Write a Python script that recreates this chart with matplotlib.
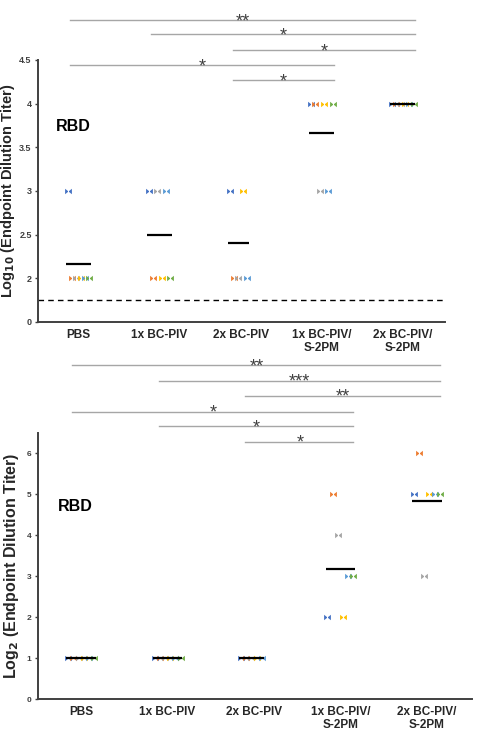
import matplotlib
matplotlib.use("Agg")
import matplotlib.pyplot as plt
import numpy as np

plt.rcParams['font.family'] = ['Liberation Sans', 'DejaVu Sans']

# data
groups = ['PBS', '1x BC-PIV', '2x BC-PIV', '1x BC-PIV/\nS-2PM', '2x BC-PIV/\nS-2PM']
mouse_colors = ['#4472C4', '#ED7D31', '#A5A5A5', '#FFC000', '#5B9BD5', '#70AD47']

# one value per mouse (None = no point)
log10_titer = [
    [3, 2, 2, 2, 2, 2],
    [3, 2, 3, 2, 3, 2],
    [3, 2, 2, 3, 2, None],
    [4, 4, 3, 4, 3, 4],
    [4, 4, 4, 4, 4, 4],
]
log2_titer = [
    [1, 1, 1, 1, 1, 1],
    [1, 1, 1, 1, 1, 1],
    [1, 1, 1, 1, 1, None],
    [2, 5, 4, 2, 3, 3],
    [5, 6, 3, 5, 5, 5],
]

# significance: (group a, group b, y level, stars)
sig_top = [(0, 4, 4.955, '**'), (1, 4, 4.795, '*'), (2, 4, 4.61, '*'),
           (0, 3, 4.44, '*'), (2, 3, 4.27, '*')]
sig_bot = [(0, 4, 8.15, '**'), (1, 4, 7.78, '***'), (2, 4, 7.41, '**'),
           (0, 3, 7.02, '*'), (1, 3, 6.66, '*'), (2, 3, 6.29, '*')]

bowtie = [(-1, 0.8), (1, -0.8), (1, 0.8), (-1, -0.8), (-1, 0.8)]


def draw_panel(ax, values, spacing, yticks, yticklabels, ylim, ylabel, sigs,
               tick_fs, label_fs, label_x):
    for i, vals in enumerate(values):
        xs, ys = [], []
        for k, v in enumerate(vals):
            if v is None:
                continue
            x = i + (k - 2.5) * spacing
            ax.scatter(x, v, marker=bowtie, s=24, color=mouse_colors[k],
                       linewidths=0, zorder=3, clip_on=False)
            xs.append(x)
            ys.append(v)
        m = np.mean(ys)
        ax.plot([min(xs) - 0.02, max(xs) + 0.02], [m, m], color='black', lw=1.6, zorder=4,
                solid_capstyle='butt')

    for a, b, y, s in sigs:
        ax.plot([a - 0.1, b + 0.15], [y, y], color='#A6A6A6', lw=1.0, clip_on=False)
        ax.annotate(s, xy=((a + b) / 2 + 0.03, y), xytext=(0, -4.5), textcoords='offset points',
                    ha='center', va='baseline', fontsize=13, color='#404040',
                    annotation_clip=False)

    ax.set_xlim(-0.5, 4.52)
    ax.set_ylim(*ylim)
    ax.set_yticks(yticks)
    ax.set_yticklabels(yticklabels, fontsize=tick_fs, color='#404040', fontweight='bold')
    ax.set_xticks(range(len(groups)))
    ax.set_xticklabels(groups, fontsize=8.5, fontweight='bold', color='#262626', linespacing=1.1)
    ax.tick_params(axis='x', length=0, pad=5)
    ax.tick_params(axis='y', length=2.5, width=1, color='#404040', pad=2)
    for side in ['top', 'right']:
        ax.spines[side].set_visible(False)
    for side in ['left', 'bottom']:
        ax.spines[side].set_color('#404040')
        ax.spines[side].set_linewidth(1.4)
    ax.set_ylabel(ylabel, fontsize=label_fs, fontweight='bold', color='#262626')
    ax.yaxis.set_label_coords(label_x, 0.5)
    ax.text(0.045, 0.0, 'RBD', transform=ax.transAxes, fontsize=11.5, fontweight='bold')


fig = plt.figure(figsize=(4.8, 7.4), dpi=100)
ax1 = fig.add_axes([0.079, 0.565, 0.848, 0.354])
ax2 = fig.add_axes([0.079, 0.0554, 0.904, 0.3595])

draw_panel(ax1, log10_titer, 0.054, [1.5, 2, 2.5, 3, 3.5, 4, 4.5],
           ['0', '2', '2.5', '3', '3.5', '4', '4.5'], (1.5, 4.5),
           r'Log$_{\mathbf{10}}$ (Endpoint Dilution Titer)', sig_top, 6.5, 10.5, -0.052)
ax1.axhline(1.75, color='black', lw=1.0, ls=(0, (4, 3)))
ax1.texts[-1].set_position((0.045, 0.73))

draw_panel(ax2, log2_titer, 0.06, [0, 1, 2, 3, 4, 5, 6],
           ['0', '1', '2', '3', '4', '5', '6'], (0, 6.5),
           r'Log$_{\mathbf{2}}$ (Endpoint Dilution Titer)', sig_bot, 6, 11.5, -0.04)
ax2.texts[-1].set_position((0.045, 0.705))

fig.savefig('out.png', dpi=100)
